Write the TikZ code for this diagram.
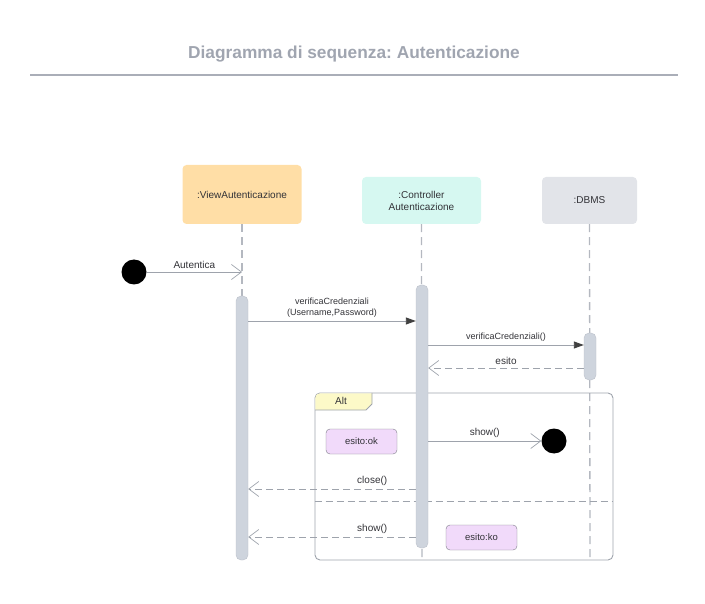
\documentclass[tikz,border=0pt]{standalone}
\usepackage{fontspec}
\setmainfont{Liberation Sans}
\usetikzlibrary{arrows.meta}
\frenchspacing

\definecolor{titlegray}{RGB}{160,165,176}
\definecolor{linegray}{RGB}{158,163,172}
\definecolor{lifegray}{RGB}{180,184,192}
\definecolor{txtgray}{RGB}{50,50,55}
\definecolor{viewfill}{RGB}{255,222,166}
\definecolor{ctrlfill}{RGB}{214,248,241}
\definecolor{dbfill}{RGB}{226,228,233}
\definecolor{actfill}{RGB}{206,212,221}
\definecolor{actdraw}{RGB}{188,193,202}
\definecolor{altfill}{RGB}{252,249,200}
\definecolor{esitofill}{RGB}{241,218,250}
\definecolor{esitodraw}{RGB}{125,125,135}

\tikzset{
  obj/.style={rounded corners=4pt, minimum width=119, align=center,
    font=\fontsize{10}{12}\selectfont, text=txtgray},
  life/.style={draw=lifegray, line width=1.3pt, dash pattern=on 8pt off 5pt},
  act/.style={draw=actdraw, fill=actfill, rounded corners=5pt,
    minimum width=12, inner sep=0pt},
  msg/.style={draw=linegray, line width=0.9pt,
    -{Triangle[length=10pt,width=7pt,fill=black!75,color=black!75]}},
  call/.style={draw=linegray, line width=0.9pt,
    -{Straight Barb[length=10pt,width=15pt,line width=0.7pt]}},
  reply/.style={call, dash pattern=on 7pt off 4pt},
  lbl/.style={font=\fontsize{10}{12}\selectfont, text=txtgray},
  smalllbl/.style={font=\fontsize{9}{10.5}\selectfont, text=txtgray, align=center},
  cond/.style={draw=esitodraw, fill=esitofill, rounded corners=4pt,
    minimum width=71, minimum height=25, font=\fontsize{9.5}{11}\selectfont, text=txtgray},
  dot/.style={circle, fill=black, minimum size=25, inner sep=0pt}
}

\begin{document}
\begin{tikzpicture}[x=1pt,y=-1pt]
\useasboundingbox (0,0) rectangle (705,604);

% title
\node (T) at (354,54) [font=\bfseries\fontsize{17.3}{20}\selectfont, text=titlegray] {Diagramma di sequenza: Autenticazione};
\draw [titlegray!90, line width=1.8pt] (30,75) -- (678,75);

% objects
\node (V) at (242,194.5) [obj, fill=viewfill, minimum height=59] {:ViewAutenticazione};
\node (C) at (421.5,200.5) [obj, fill=ctrlfill, minimum height=47] {:Controller\\Autenticazione};
\node (D) at (589.5,200.5) [obj, fill=dbfill, minimum height=47, minimum width=95] {:DBMS};

% lifelines
\coordinate (Vend) at (242,560);
\coordinate (Cend) at (422,560);
\coordinate (Dend) at (590,560);
\draw [life] (V.south) -- (Vend);
\draw [life] (C.south) -- (Cend);
\draw [life] (D.south) -- (Dend);

% alt frame
\node (F) at (464,476.5) [draw=linegray, line width=0.9pt, rounded corners=5pt, minimum width=298, minimum height=167] {};
\fill [altfill] (315.4,397.5) -- (315.4,410) -- (366,410) -- (372,404) -- (372,393.4) -- (319.5,393.4) to[out=180,in=90] cycle;
\draw [linegray, line width=0.9pt] (315,410) -- (366,410) -- (372,404) -- (372,393);
\node (ALT) at (341,401) [lbl] {Alt};
\draw [linegray, line width=0.9pt, dash pattern=on 7pt off 4pt] (F.west |- 0,501) -- (F.east |- 0,501);

% activations
\node (aV) at (242,428) [act, minimum height=264] {};
\node (aC) at (422,416.5) [act, minimum height=263] {};
\node (aD) at (590,356.5) [act, minimum height=47] {};

% message levels
\coordinate (m0) at (0,272);
\coordinate (m1) at (0,321);
\coordinate (m2) at (0,345);
\coordinate (m3) at (0,368);
\coordinate (m4) at (0,441);
\coordinate (m5) at (0,489);
\coordinate (m6) at (0,537);

\node (S) at (134,272) [dot] {};
\node (E) at (554,441) [dot] {};

\draw [call] (S) -- (V.south |- m0) node[midway, above, lbl] {Autentica};
\draw [msg] (aV.east |- m1) -- (aC.west |- m1) node[midway, above, smalllbl] {verificaCredenziali\\(Username,Password)};
\draw [msg] (aC.east |- m2) -- (aD.west |- m2) node[midway, above, smalllbl] {verificaCredenziali()};
\draw [reply] (aD.west |- m3) -- (aC.east |- m3) node[midway, above, lbl] {esito};
\draw [call] (aC.east |- m4) -- (E) node[midway, above, lbl] {show()};
\draw [reply] (aC.west |- m5) -- (aV.east |- m5) node[pos=0.26, above, lbl] {close()};
\draw [reply] (aC.west |- m6) -- (aV.east |- m6) node[pos=0.26, above, lbl] {show()};

% conditions
\node (OK) at (361.5,441.5) [cond] {esito:ok};
\node (KO) at (481.5,537.5) [cond] {esito:ko};
\end{tikzpicture}
\end{document}
